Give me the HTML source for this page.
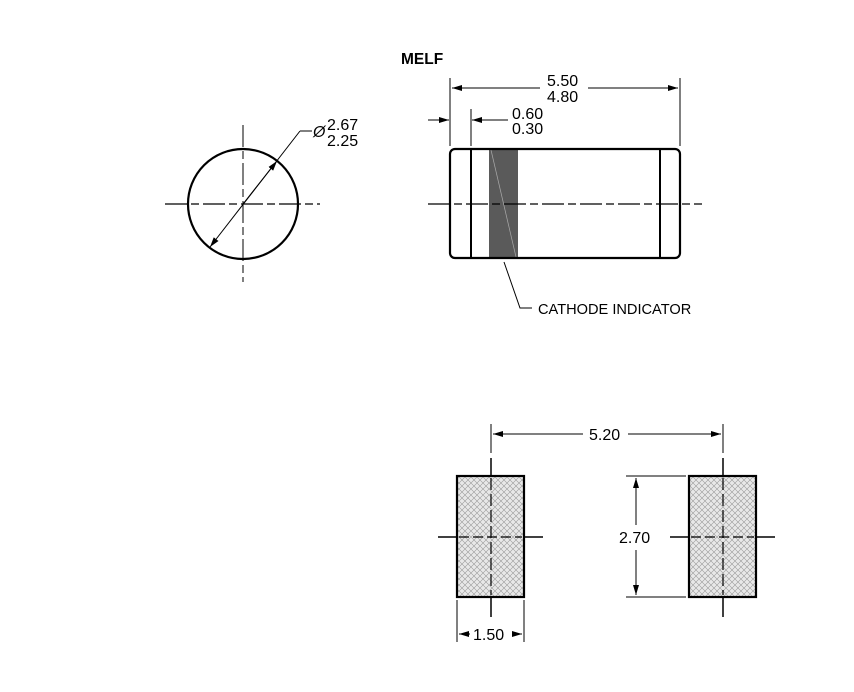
<!DOCTYPE html>
<html><head><meta charset="utf-8"><style>body{margin:0;background:#fff}svg{display:block}text{font-family:"Liberation Sans",sans-serif;fill:#000}</style></head><body>
<svg width="854" height="692" viewBox="0 0 854 692" xmlns="http://www.w3.org/2000/svg">
<defs>
<pattern id="h" width="6" height="6" patternUnits="userSpaceOnUse"><rect width="6" height="6" fill="#e8e8e8"/><path d="M0 0L6 6M6 0L0 6" stroke="#999" stroke-width="0.6"/></pattern>
<marker id="a" markerWidth="10" markerHeight="6" refX="10" refY="3" orient="auto" markerUnits="userSpaceOnUse"><path d="M0 0L10 3L0 6z" fill="#000"/></marker>
</defs>
<g stroke="#000" fill="none">
<circle cx="243" cy="204" r="55" stroke-width="2.2"/>
<line x1="165" y1="204" x2="320" y2="204" stroke-width="1.3" stroke-dasharray="22,4,8,4"/>
<line x1="243" y1="125" x2="243" y2="282" stroke-width="1" stroke-dasharray="22,4,8,4"/>
<line x1="300" y1="131" x2="210" y2="247" stroke-width="1" marker-end="url(#a)"/>
<line x1="243" y1="204" x2="277" y2="161" stroke-width="1" marker-end="url(#a)"/>
<line x1="300" y1="131" x2="312" y2="131" stroke-width="1"/>
<rect x="489" y="149" width="29" height="109" fill="#5a5a5a" stroke="none"/>
<line x1="491" y1="150" x2="516" y2="257" stroke="#aaa" stroke-width="0.7"/>
<rect x="450" y="149" width="230" height="109" rx="5" stroke-width="2.2"/>
<line x1="471" y1="149" x2="471" y2="258" stroke-width="2"/>
<line x1="660" y1="149" x2="660" y2="258" stroke-width="2"/>
<line x1="428" y1="204" x2="702" y2="204" stroke-width="1.3" stroke-dasharray="22,4,8,4"/>
<line x1="450" y1="78" x2="450" y2="146" stroke-width="1"/>
<line x1="680" y1="78" x2="680" y2="146" stroke-width="1"/>
<line x1="540" y1="88" x2="452" y2="88" stroke-width="1" marker-end="url(#a)"/>
<line x1="588" y1="88" x2="678" y2="88" stroke-width="1" marker-end="url(#a)"/>
<line x1="471" y1="109" x2="471" y2="146" stroke-width="1"/>
<line x1="428" y1="120" x2="449" y2="120" stroke-width="1" marker-end="url(#a)"/>
<line x1="508" y1="120" x2="472" y2="120" stroke-width="1" marker-end="url(#a)"/>
<polyline points="504,262 520,308 532,308" stroke-width="1"/>
<rect x="457" y="476" width="67" height="121" fill="url(#h)" stroke-width="2.2"/>
<rect x="689" y="476" width="67" height="121" fill="url(#h)" stroke-width="2.2"/>
<line x1="491" y1="478" x2="491" y2="595" stroke-width="1.2" stroke-dasharray="12,4"/>
<line x1="723" y1="478" x2="723" y2="595" stroke-width="1.2" stroke-dasharray="12,4"/>
<line x1="459" y1="537" x2="522" y2="537" stroke-width="1.2" stroke-dasharray="10,4"/>
<line x1="691" y1="537" x2="754" y2="537" stroke-width="1.2" stroke-dasharray="10,4"/>
<g stroke-width="1.5">
<line x1="491" y1="458" x2="491" y2="476"/><line x1="491" y1="597" x2="491" y2="617"/>
<line x1="723" y1="458" x2="723" y2="476"/><line x1="723" y1="597" x2="723" y2="617"/>
<line x1="438" y1="537" x2="457" y2="537"/><line x1="524" y1="537" x2="543" y2="537"/>
<line x1="670" y1="537" x2="689" y2="537"/><line x1="756" y1="537" x2="775" y2="537"/>
</g>
<line x1="491" y1="424" x2="491" y2="453" stroke-width="1"/>
<line x1="723" y1="424" x2="723" y2="453" stroke-width="1"/>
<line x1="583" y1="434" x2="493" y2="434" stroke-width="1" marker-end="url(#a)"/>
<line x1="628" y1="434" x2="721" y2="434" stroke-width="1" marker-end="url(#a)"/>
<line x1="626" y1="476" x2="686" y2="476" stroke-width="1"/>
<line x1="626" y1="597" x2="686" y2="597" stroke-width="1"/>
<line x1="636" y1="525" x2="636" y2="478" stroke-width="1" marker-end="url(#a)"/>
<line x1="636" y1="550" x2="636" y2="595" stroke-width="1" marker-end="url(#a)"/>
<line x1="457" y1="600" x2="457" y2="642" stroke-width="1"/>
<line x1="524" y1="600" x2="524" y2="642" stroke-width="1"/>
<line x1="470" y1="634" x2="459" y2="634" stroke-width="1" marker-end="url(#a)"/>
<line x1="512" y1="634" x2="522" y2="634" stroke-width="1" marker-end="url(#a)"/>
</g>
<text x="401" y="64" font-size="15.5" font-weight="bold">MELF</text>
<text x="547" y="86" font-size="16">5.50</text>
<text x="547" y="102" font-size="16">4.80</text>
<text x="512" y="119" font-size="16">0.60</text>
<text x="512" y="134" font-size="16">0.30</text>
<text x="313" y="137" font-size="16" font-style="italic">Ø</text>
<text x="327" y="130" font-size="16">2.67</text>
<text x="327" y="146" font-size="16">2.25</text>
<text x="538" y="314" font-size="14.6">CATHODE INDICATOR</text>
<text x="589" y="440" font-size="16">5.20</text>
<text x="619" y="543" font-size="16">2.70</text>
<text x="473" y="640" font-size="16">1.50</text>
</svg>
</body></html>
